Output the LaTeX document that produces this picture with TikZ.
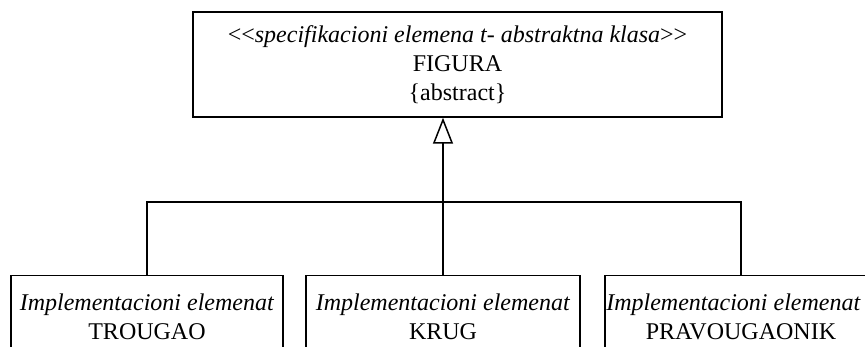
\documentclass[tikz,border=0pt]{standalone}
\usepackage{fontspec}
\setmainfont{Liberation Serif}
\usetikzlibrary{positioning,arrows.meta}

\begin{document}
\begin{tikzpicture}[x=1pt,y=-1pt]
        \tikzstyle{klasa}=[draw, line width=1.5pt, align=center, inner sep=0pt,
            font=\fontsize{24}{29}\selectfont]
        \tikzstyle{veza}=[line width=1.5pt]

        \useasboundingbox (0,0) rectangle (865,347);
        \clip (0,0) rectangle (865,347);

        \node (figura) [klasa, minimum width=529pt, minimum height=105pt]
            at (457.5,64.5) {<{}<\textit{specifikacioni elemena t- abstraktna klasa}>{}>\\FIGURA\\\{abstract\}};

        \node (trougao) [klasa, anchor=north, minimum width=272pt, minimum height=82pt]
            at (147,275) {\textit{Implementacioni elemenat}\\TROUGAO};
        \node (krug) [klasa, anchor=north, minimum width=274pt, minimum height=82pt]
            at (443,275) {\textit{Implementacioni elemenat}\\KRUG};
        \node (pravougaonik) [klasa, anchor=north, minimum width=272pt, minimum height=82pt]
            at (741,275) {\textit{Implementacioni elemenat}\hspace*{15pt}\\PRAVOUGAONIK};

        \coordinate (spoj) at (443,202);

        \draw[veza, -{Triangle[open, length=26pt, width=20pt]}] (krug.north) -- (spoj) -- (spoj |- figura.south);
        \draw[veza] (trougao.north) |- (spoj);
        \draw[veza] (pravougaonik.north) |- (spoj);

    \end{tikzpicture}
\end{document}
